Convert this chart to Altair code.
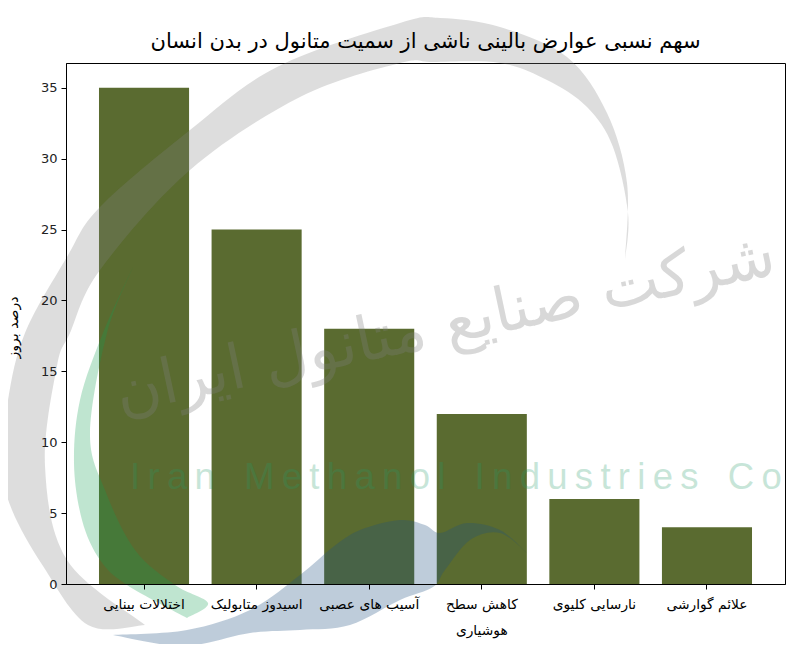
import altair as alt
import pandas as pd

categories = ["اختلالات بینایی", "اسیدوز متابولیک", "آسیب های عصبی", "کاهش سطح|هوشیاری", "نارسایی کلیوی", "علائم گوارشی"]
values = [35, 25, 18, 12, 6, 4]
title_text = "سهم نسبی عوارض بالینی ناشی از سمیت متانول در بدن انسان"
y_title = "درصد بروز"
wm_fa = "شرکت صنایع متانول ایران"
wm_en = "\u2009".join("Iran") + "\u2009\u2009\u2009\u2009" + "\u2009".join("Methanol") + "\u2009\u2009\u2009\u2009" + "\u2009".join("Industries") + "\u2009\u2009\u2009\u2009" + "\u2009".join("Co")

OX, OY = 66, 63   # plot origin on page
W, H = 719, 521

# decorative logo outlines behind the chart, page pixels: two edges between the tips of each crescent
gray_outer = [(145, 625), (88, 625), (43, 566), (12, 510), (2, 466), (8, 400), (25, 333), (67, 257), (100, 207),
              (190, 130), (277, 67), (400, 23), (440, 18), (500, 27), (567, 57), (607, 113), (627, 183), (625, 260)]
gray_inner = [(625, 260), (628, 213), (613, 147), (587, 107), (547, 80), (500, 63), (433, 62), (400, 63), (300, 97),
              (190, 170), (100, 270), (70, 333), (57, 366), (45, 466), (67, 560), (145, 625)]
green_outer = [(133, 267), (103, 333), (80, 400), (74, 463), (82, 520), (100, 560), (127, 585), (187, 618)]
green_inner = [(187, 618), (208, 603), (175, 585), (135, 550), (105, 490), (90, 433), (107, 333), (133, 267)]
blue_lower = [(113, 635), (183, 646), (250, 633), (300, 630), (350, 625), (400, 600), (433, 587), (445, 570),
              (470, 540), (500, 533), (527, 553)]
blue_upper = [(527, 553), (500, 530), (467, 523), (440, 533), (425, 525), (400, 520), (360, 530), (333, 547),
              (300, 575), (250, 610), (187, 630), (113, 635)]


def edge(points):
    out = ""
    for i in range(len(points) - 1):
        p0 = points[max(i - 1, 0)]
        p1 = points[i]
        p2 = points[i + 1]
        p3 = points[min(i + 2, len(points) - 1)]
        c1 = (p1[0] + (p2[0] - p0[0]) / 6, p1[1] + (p2[1] - p0[1]) / 6)
        c2 = (p2[0] - (p3[0] - p1[0]) / 6, p2[1] - (p3[1] - p1[1]) / 6)
        out += f"C{c1[0]:.1f},{c1[1]:.1f} {c2[0]:.1f},{c2[1]:.1f} {p2[0]},{p2[1]} "
    return out


def crescent(a, b):
    return f"M{a[0][0]},{a[0][1]} " + edge(a) + edge(b) + "Z"


one = pd.DataFrame({"a": [0]})
df = pd.DataFrame({"cat": categories, "val": values})


def logo(a, b, col, op):
    # a custom symbol of size 4 has one path unit per pixel
    return alt.Chart(one).mark_point(
        shape=crescent(a, b), size=4, filled=True, fill=col, opacity=op, strokeWidth=0,
    ).encode(x=alt.value(-OX), y=alt.value(-OY))


gray = logo(gray_outer, gray_inner, "#808080", 0.27)
green = logo(green_outer, green_inner, "#129f51", 0.27)
blue = logo(blue_lower, blue_upper, "#1f5080", 0.29)

fa = alt.Chart(one).mark_text(
    text=wm_fa, font="DejaVu Sans", fontSize=62, angle=348, color="#808080", opacity=0.3,
    align="center", baseline="middle",
).encode(x=alt.value(445 - OX), y=alt.value(325 - OY))
en = alt.Chart(one).mark_text(
    text=wm_en, font="Liberation Sans", fontSize=36.5, color="#239b69", opacity=0.25,
    align="left", baseline="middle",
).encode(x=alt.value(130 - OX), y=alt.value(478 - OY))

bars = alt.Chart(df).mark_bar(color="#5a6b30").encode(
    x=alt.X("cat:N", sort=categories, title=None,
            scale=alt.Scale(paddingInner=0.2, paddingOuter=0.293),
            axis=alt.Axis(labelAngle=0, labelExpr="split(datum.label, '|')", labelFont="DejaVu Sans",
                          labelFontSize=13.8, labelColor="black", labelPadding=15, labelLineHeight=26,
                          tickColor="black", domainColor="black", tickSize=5, labelLimit=0,
                          labelBaseline="middle", zindex=1)),
    y=alt.Y("val:Q", title=y_title, scale=alt.Scale(domain=[0, 36.75], nice=False),
            axis=alt.Axis(values=[0, 5, 10, 15, 20, 25, 30, 35], grid=False, labelFont="DejaVu Sans",
                          labelFontSize=13, labelColor="#222222", tickColor="black", domainColor="black",
                          tickSize=5, labelPadding=4, titleFont="DejaVu Sans", titleFontSize=14,
                          titleFontWeight="normal", titleColor="black", titleX=-46, titleY=264, zindex=1)),
)

chart = alt.layer(bars, gray, green, blue, fa, en).properties(
    width=W, height=H,
    title=alt.TitleParams(title_text, font="DejaVu Sans", fontSize=21, fontWeight="normal",
                          color="black", anchor="middle", offset=0, dy=35),
    autosize=alt.AutoSizeParams(type="none"),
    padding={"left": OX - 8, "top": OY - 8, "right": 7, "bottom": 60},
).configure_view(stroke="black", strokeWidth=1)

chart.save("out.html", embed_options={"renderer": "svg", "actions": False})
